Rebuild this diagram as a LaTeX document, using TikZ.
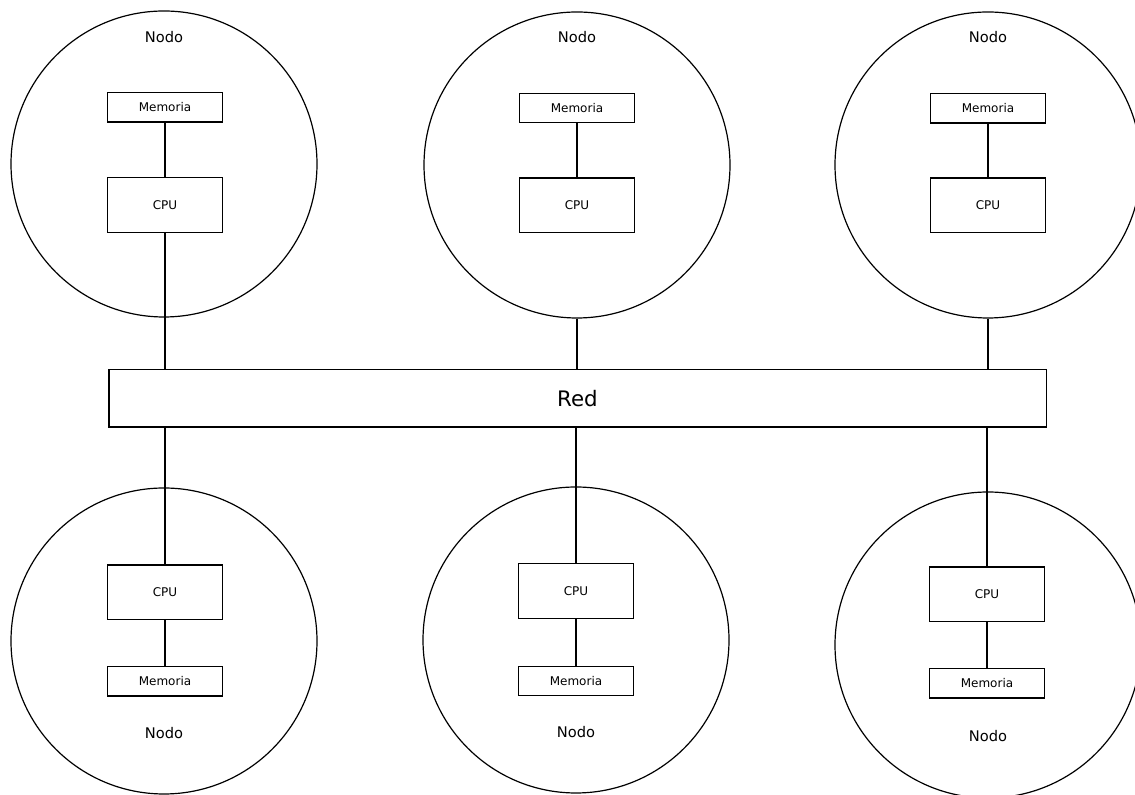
\documentclass[tikz,border=0pt]{standalone}
\usepackage{fontspec}
\setmainfont{DejaVu Sans}
\usepackage{tikz}
\usetikzlibrary{positioning}

\tikzset{
  nodo/.style={draw, circle, line width=0.9pt, minimum size=229.5pt, inner sep=0pt},
  memoria/.style={draw, line width=1pt, minimum width=86pt, minimum height=22pt,
    inner sep=0pt, font=\fontsize{9}{11}\selectfont},
  cpu/.style={draw, line width=1pt, minimum width=86pt, minimum height=41pt,
    inner sep=0pt, font=\fontsize{9}{11}\selectfont},
  etiqueta/.style={font=\fontsize{11}{13}\selectfont},
  enlace/.style={line width=1pt}
}

\begin{document}
\begin{tikzpicture}[x=0.75pt,y=0.75pt]
  \useasboundingbox (0,0) rectangle (1135,795);

  % la red en el centro
  \node[draw, fill=white, line width=1pt, minimum width=703pt, minimum height=43pt,
    font=\fontsize{16}{19}\selectfont] (red) at (577.5,396.5) {Red};

  % nodos de arriba
  \node[nodo] (nodoA) at (164,631) {};
  \node[etiqueta] (nodoAtxt) at (164,758) {Nodo};
  \node[memoria] (memA) at (165,687.5) {Memoria};
  \node[cpu] (cpuA) at (165,590) {CPU};

  \node[nodo] (nodoB) at (577,630) {};
  \node[etiqueta] (nodoBtxt) at (577,758) {Nodo};
  \node[memoria] (memB) at (577,687) {Memoria};
  \node[cpu] (cpuB) at (577,589.5) {CPU};

  \node[nodo] (nodoC) at (988,630) {};
  \node[etiqueta] (nodoCtxt) at (988,758) {Nodo};
  \node[memoria] (memC) at (988,686.5) {Memoria};
  \node[cpu] (cpuC) at (988,589.5) {CPU};

  % nodos de abajo
  \node[nodo] (nodoD) at (164,154) {};
  \node[etiqueta] (nodoDtxt) at (164,62) {Nodo};
  \node[cpu] (cpuD) at (165,202.5) {CPU};
  \node[memoria] (memD) at (165,113.5) {Memoria};

  \node[nodo] (nodoE) at (576,155) {};
  \node[etiqueta] (nodoEtxt) at (576,63) {Nodo};
  \node[cpu] (cpuE) at (576,204) {CPU};
  \node[memoria] (memE) at (576,114) {Memoria};

  \node[nodo] (nodoF) at (988,150) {};
  \node[etiqueta] (nodoFtxt) at (988,59) {Nodo};
  \node[cpu] (cpuF) at (987,200.5) {CPU};
  \node[memoria] (memF) at (987,111.5) {Memoria};

  % enlaces
  \draw[enlace] (memA) -- (cpuA);
  \draw[enlace] (cpuA) -- (cpuA |- red.north);
  \draw[enlace] (memB) -- (cpuB);
  \draw[enlace] (nodoB.south) -- (nodoB.south |- red.north);
  \draw[enlace] (memC) -- (cpuC);
  \draw[enlace] (nodoC.south) -- (nodoC.south |- red.north);

  \draw[enlace] (red.south -| cpuD) -- (cpuD);
  \draw[enlace] (cpuD) -- (memD);
  \draw[enlace] (red.south -| cpuE) -- (cpuE);
  \draw[enlace] (cpuE) -- (memE);
  \draw[enlace] (red.south -| cpuF) -- (cpuF);
  \draw[enlace] (cpuF) -- (memF);
\end{tikzpicture}
\end{document}
